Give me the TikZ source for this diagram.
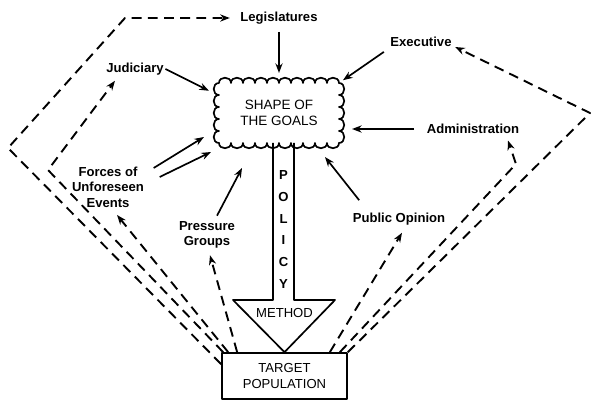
\documentclass[tikz,border=0pt]{standalone}
\usepackage{fontspec}
\setmainfont{Liberation Sans}
\usetikzlibrary{arrows.meta,calc}
\tikzstyle{actor} = [font=\fontsize{9.3}{11}\selectfont\bfseries, align=center, inner sep=1pt]
\tikzstyle{goal} = [rectangle, outer sep=0pt, minimum width=3cm, minimum height=1.5cm, align=center, font=\fontsize{9.6}{11.5}\selectfont]
\tikzstyle{scallop} = [looseness=1.5]
\tikzstyle{block} = [draw, rectangle, line width=1.2pt, minimum width=3.125cm, minimum height=1.15cm, align=center, font=\fontsize{9.3}{11}\selectfont]
\tikzstyle{pull} = [-{Stealth[length=2.4mm,width=1.8mm]}, line width=1.2pt]
\tikzstyle{feedback} = [pull, line width=1.35pt, dash pattern=on 7pt off 4.5pt]

\begin{document}
\begin{tikzpicture}[x=0.025cm,y=-0.025cm,line join=round]
	\useasboundingbox (0,0) rectangle (600,407);
	% the goals and the population they reach
	\node [goal] (goals) at (279,113) {SHAPE OF\\THE GOALS};
	\node [block] (target) at (284.5,376) {TARGET\\POPULATION};

	% cloudy edge of the goals
	\draw [line width=1.2pt, scallop] (goals.north west)
		\foreach \i in {1,...,10} { to[out=90,in=90] ++(12,0) }
		\foreach \i in {1,...,5} { to[out=0,in=0] ++(0,12) }
		\foreach \i in {1,...,10} { to[out=-90,in=-90] ++(-12,0) }
		\foreach \i in {1,...,5} { to[out=180,in=180] ++(0,-12) } -- cycle;

	% where the goals come from
	\node [actor] (legis) at (279,18) {Legislatures};
	\node [actor] (exec) at (421,42) {Executive};
	\node [actor] (judic) at (135,69) {Judiciary};
	\node [actor] (admin) at (473,129) {Administration};
	\node [actor] (forces) at (108,187) {Forces of\\Unforeseen\\Events};
	\node [actor] (press) at (207,235) {Pressure\\Groups};
	\node [actor] (public) at (399,219) {Public Opinion};

	% the big policy arrow
	\draw [line width=1.2pt] (273,143) -- (273,300) -- (233,300) -- (target.north) -- (335,300) -- (294,300) -- (294,143);
	\node [actor, font=\fontsize{9.3}{15.5}\selectfont\bfseries] (policy) at (283.5,229.5) {P\\O\\L\\I\\C\\Y};
	\node [font=\fontsize{9.3}{11}\selectfont] (method) at (284.5,313) {METHOD};

	% draw the influences
	\draw [pull, shorten <=1.5mm, shorten >=2.5mm] (legis) -- (legis |- goals.north);
	\draw [pull, shorten >=2.8mm] (judic.east) -- (goals.164);
	\draw [pull, shorten <=1.5mm, shorten >=1.2mm] (exec.south west) -- (goals.north east);
	\draw [pull, shorten <=2.75mm, shorten >=3.25mm] (admin.west) -- (admin.west -| goals.east);
	\draw [pull] ($(forces.east)+(8,-19)$) -- ($(goals.west)+(-15,24)$);
	\draw [pull] ($(forces.east)+(14,-10)$) -- ($(goals.west)+(-8,39)$);
	\draw [pull] ($(press.north)+(10,-4)$) -- ($(goals.south)+(-37,25)$);
	\draw [pull] ($(public.north west)+(8,-11)$) -- ($(goals.south east)+(-14,14)$);

	% feedback from the target population
	\coordinate (lcorner) at (8,148);
	\coordinate (ltop) at (125,18);
	\coordinate (jcorner) at (48,170);
	\coordinate (acorner) at (516,164);
	\coordinate (rcorner) at (590,113);
	\draw [feedback, shorten >=2.25mm] ($(target.north west)+(0,12)$) -- (lcorner) -- (ltop) -- (legis.west);
	\draw [feedback] ($(target.north west)+(2,0)$) -- (jcorner) -- ($(judic.south)+(-20,4)$);
	\draw [feedback] ($(target.north west)+(7,0)$) -- ($(forces.south)+(9,6)$);
	\draw [feedback] ($(target.north west)+(16,0)$) -- ($(press.south)+(3,5)$);
	\draw [feedback] ($(target.north east)+(-18,0)$) -- ($(public.south)+(3,6)$);
	\draw [feedback] ($(target.north east)+(-8,0)$) -- (acorner) -- ($(admin.south)+(35,5)$);
	\draw [feedback] (target.north east) -- (rcorner) -- ($(exec.east)+(2,5)$);

\end{tikzpicture}
\end{document}
